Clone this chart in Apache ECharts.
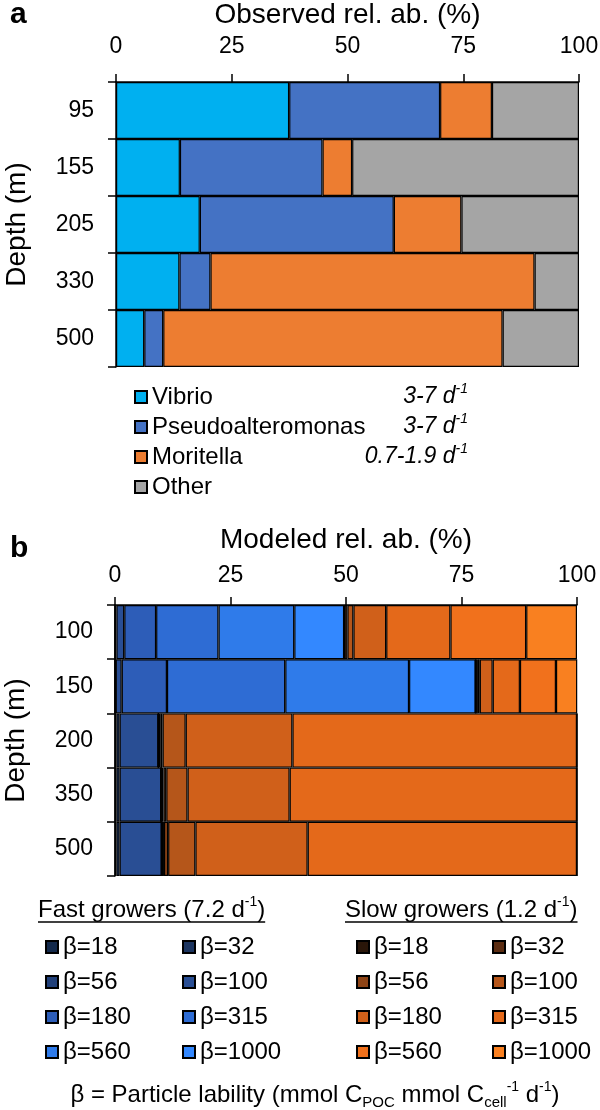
<!DOCTYPE html>
<html><head><meta charset="utf-8">
<script src="https://cdn.jsdelivr.net/npm/echarts@6/dist/echarts.min.js"></script>
<style>html,body{margin:0;padding:0;background:#fff}#c{width:600px;height:1110px}</style>
</head><body><div id="c"></div>
<script>
// ---------- Panel a data (observed relative abundance, %) ----------
const depthsA = ['95', '155', '205', '330', '500'];
const vibrio = [37.4, 13.8, 18.1, 13.7, 6.1];
const pseudoalteromonas = [32.6, 30.8, 41.9, 6.7, 4.1];
const moritella = [11.2, 6.4, 14.6, 70.0, 73.3];
const other = [18.8, 49.0, 25.4, 9.6, 16.5];
const taxaA = ['Vibrio', 'Pseudoalteromonas', 'Moritella', 'Other'];
const ratesA = ['3-7', '3-7', '0.7-1.9'];

// ---------- Panel b data (modeled relative abundance, %) ----------
const depthsB = ['100', '150', '200', '350', '500'];
const betaLevels = ['18', '32', '56', '100', '180', '315', '560', '1000'];
const fast18 = [0, 0, 0, 0, 0];
const fast32 = [0, 0, 0.3, 0.3, 0.3];
const fast56 = [0.3, 0.15, 0.7, 0.7, 0.7];
const fast100 = [1.7, 1.3, 8.4, 9.0, 9.1];
const fast180 = [6.9, 9.8, 0, 0, 0];
const fast315 = [13.5, 25.6, 0, 0, 0];
const fast560 = [16.4, 26.8, 0, 0, 0];
const fast1000 = [10.8, 14.4, 0, 0, 0];
const slow18 = [0, 0, 0, 0, 0];
const slow32 = [0.1, 0.1, 0.5, 0.5, 0.5];
const slow56 = [0.6, 0.4, 0.4, 0.6, 0.9];
const slow100 = [1.3, 0.4, 5.0, 4.6, 5.9];
const slow180 = [7.1, 2.8, 23.1, 22.1, 24.3];
const slow315 = [13.9, 5.9, 61.6, 62.2, 58.3];
const slow560 = [16.4, 7.8, 0, 0, 0];
const slow1000 = [11.0, 4.6, 0, 0, 0];
const xTicks = [0, 25, 50, 75, 100];

// ---------- styles ----------
const FONT = 'Liberation Sans, Arial, sans-serif';
const colA = ['#00B0F0', '#4472C4', '#ED7D31', '#A5A5A5'];
const fastColors = ['#13294B', '#1C3560', '#22417A', '#294E94', '#2D5DB8', '#2E6CD4', '#2F7BEA', '#3388FF'];
const slowColors = ['#2A1609', '#5C2D12', '#8E4416', '#B5561A', '#D0601A', '#E4691A', '#F1711C', '#F98020'];

const fastData = [fast18, fast32, fast56, fast100, fast180, fast315, fast560, fast1000];
const slowData = [slow18, slow32, slow56, slow100, slow180, slow315, slow560, slow1000];
const dataA = [vibrio, pseudoalteromonas, moritella, other];

const barStyle = (c) => ({ color: c, borderColor: '#000', borderWidth: 1.2 });

const series = [];
taxaA.forEach((n, i) => series.push({
  name: n, type: 'bar', stack: 'a', xAxisIndex: 0, yAxisIndex: 0,
  barCategoryGap: '0%', data: dataA[i], itemStyle: barStyle(colA[i]), emphasis: { disabled: true }
}));
betaLevels.forEach((b, i) => series.push({
  name: 'Fast β=' + b, type: 'bar', stack: 'b', xAxisIndex: 1, yAxisIndex: 1,
  barCategoryGap: '0%', data: fastData[i], itemStyle: barStyle(fastColors[i]), emphasis: { disabled: true }
}));
betaLevels.forEach((b, i) => series.push({
  name: 'Slow β=' + b, type: 'bar', stack: 'b', xAxisIndex: 1, yAxisIndex: 1,
  barCategoryGap: '0%', data: slowData[i], itemStyle: barStyle(slowColors[i]), emphasis: { disabled: true }
}));

const axisLineStyle = { show: true, lineStyle: { color: '#000', width: 1.5 } };
const mkX = (idx, margin, gap, name) => ({
  type: 'value', gridIndex: idx, position: 'top', min: xTicks[0], max: xTicks[xTicks.length - 1],
  interval: xTicks[1] - xTicks[0],
  axisLine: axisLineStyle, axisTick: { show: true, length: 8, lineStyle: { color: '#000', width: 1.5 } },
  splitLine: { show: false },
  axisLabel: { fontSize: 23, color: '#000', fontFamily: FONT, margin: margin },
  name: name, nameLocation: 'middle', nameGap: gap, nameMoveOverlap: false,
  nameTextStyle: { fontSize: 28, color: '#000', fontFamily: FONT }
});
const mkY = (idx, cats) => ({
  type: 'category', gridIndex: idx, data: cats, inverse: true,
  axisLine: axisLineStyle, axisTick: { show: true, length: 8, lineStyle: { color: '#000', width: 1.5 } },
  axisLabel: { fontSize: 23, color: '#000', fontFamily: FONT, margin: 22 },
  name: 'Depth (m)', nameLocation: 'middle', nameGap: 85, nameRotate: 90, nameMoveOverlap: false,
  nameTextStyle: { fontSize: 28, color: '#000', fontFamily: FONT }
});

const legendText = { fontSize: 24, lineHeight: 24, color: '#000', fontFamily: FONT };
const mkLegend = (left, top, names, gap) => ({
  left: left, top: top, orient: 'vertical', itemWidth: 12, itemHeight: 12, itemGap: gap,
  padding: 0, selectedMode: false, icon: 'rect', textStyle: legendText,
  data: names, formatter: (n) => n.replace(/^(Fast|Slow) /, '')
});
const pick = (prefix, idxs) => idxs.map(i => prefix + betaLevels[i]);

// measure text for underlines
const ctx = document.createElement('canvas').getContext('2d');
function w(txt, size, style) { ctx.font = (style || '') + ' ' + size + 'px ' + FONT; return ctx.measureText(txt).width; }
const headW = (g, r) => w(g + ' growers (' + r + ' d', 24) + w('-1', 14) + w(')', 24);

const sup = { fontSize: 14, lineHeight: 14, verticalAlign: 'top', fontFamily: FONT, fill: '#000' };
const sub = { fontSize: 15, lineHeight: 15, verticalAlign: 'bottom', fontFamily: FONT, fill: '#000' };
const base = (fs, st) => ({ fontSize: fs, lineHeight: 30, fontFamily: FONT, fill: '#000', fontStyle: st || 'normal' });

const graphics = [
  { type: 'text', x: 10, y: 15, style: { text: 'a', font: 'bold 30px ' + FONT, fill: '#000', verticalAlign: 'middle', textVerticalAlign: 'middle' } },
  { type: 'text', x: 10, y: 549, style: { text: 'b', font: 'bold 30px ' + FONT, fill: '#000', verticalAlign: 'middle', textVerticalAlign: 'middle' } }
];
const rateY = [397, 427, 457];
ratesA.forEach((r, i) => graphics.push({
  type: 'text', x: 468, y: rateY[i],
  style: {
    text: '{i|' + r + ' d}{s|-1}', align: 'right', textAlign: 'right', verticalAlign: 'middle', textVerticalAlign: 'middle',
    rich: { i: base(23, 'italic'), s: Object.assign({}, sup, { fontStyle: 'italic' }) }
  }
}));
[['Fast', '7.2', 38], ['Slow', '1.2', 345]].forEach(([g, r, x]) => {
  graphics.push({
    type: 'text', x: x, y: 910,
    style: {
      text: '{t|' + g + ' growers (' + r + ' d}{s|-1}{t|)}', align: 'left', textAlign: 'left', verticalAlign: 'middle', textVerticalAlign: 'middle',
      rich: { t: base(24), s: sup }
    }
  });
  graphics.push({ type: 'line', shape: { x1: x, y1: 922, x2: x + headW(g, r), y2: 922 }, style: { stroke: '#000', lineWidth: 1.3 } });
});
graphics.push({
  type: 'text', x: 315, y: 1095,
  style: {
    text: '{t|β = Particle lability (mmol C}{d|POC}{t| mmol C}{d|cell}{s|-1}{t| d}{s|-1}{t|)}',
    align: 'center', textAlign: 'center', verticalAlign: 'middle', textVerticalAlign: 'middle',
    rich: { t: base(24), d: sub, s: sup }
  }
});

const option = {
  animation: false,
  backgroundColor: '#fff',
  textStyle: { fontFamily: FONT },
  grid: [
    { left: 116, top: 82, width: 463, height: 285, containLabel: false, outerBoundsMode: 'none' },
    { left: 115, top: 605, width: 462, height: 271, containLabel: false, outerBoundsMode: 'none' }
  ],
  xAxis: [mkX(0, 24, 53, 'Observed rel. ab. (%)'), mkX(1, 18, 51, 'Modeled rel. ab. (%)')],
  yAxis: [mkY(0, depthsA), mkY(1, depthsB)],
  legend: [
    mkLegend(134, 385, taxaA, 6),
    mkLegend(45, 935, pick('Fast β=', [0, 2, 4, 6]), 11),
    mkLegend(182, 935, pick('Fast β=', [1, 3, 5, 7]), 11),
    mkLegend(356, 935, pick('Slow β=', [0, 2, 4, 6]), 11),
    mkLegend(492, 935, pick('Slow β=', [1, 3, 5, 7]), 11)
  ],
  graphic: graphics,
  series: series
};
const chart = echarts.init(document.getElementById('c'), null, { renderer: 'canvas' });
chart.setOption(option);
</script></body></html>
